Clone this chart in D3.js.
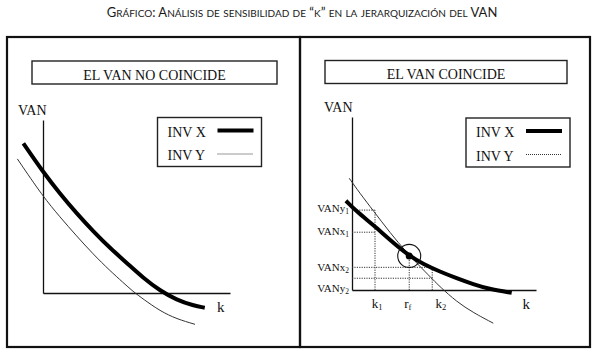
<!DOCTYPE html>
<html>
<head>
<meta charset="utf-8">
<script src="https://cdn.jsdelivr.net/npm/d3@7"></script>
<style>
  body { margin: 0; background: #fff; }
  svg { display: block; }
  .serif { font-family: "Liberation Serif", "Times New Roman", serif; fill: #111; }
</style>
</head>
<body>
<svg id="chart" width="599" height="354"></svg>
<script>
// ---- data (k and VAN in arbitrary units, 0..10 on each axis) ----
const chartTitle = "Gráfico: Análisis de sensibilidad de “k” en la jerarquización del VAN";
const panelTitles = ["EL VAN NO COINCIDE", "EL VAN COINCIDE"];
const seriesNames = ["INV X", "INV Y"];

// left panel: the two curves never cross inside the quadrant
const leftKX = [-1.05, 0, 0.9, 1.8, 2.7, 3.6, 4.5, 5.35, 6.25, 7.15, 8.05, 8.65];
const leftVanX = [8.65, 7.0, 5.75, 4.6, 3.55, 2.58, 1.72, 0.88, 0.14, -0.4, -0.73, -0.85];
const leftKY = [-1.37, 0, 0.91, 1.8, 2.68, 3.57, 4.28, 4.81, 5.36, 6.26, 7.15, 8.13];
const leftVanY = [7.75, 5.57, 4.39, 3.29, 2.25, 1.3, 0.61, 0.09, -0.35, -1.04, -1.5, -1.81];

// right panel: curves cross at r_f (Fisher rate)
const rightKX = [-0.33, 0.26, 1.16, 2.07, 3.11, 3.88, 4.78, 5.69, 6.59, 7.5, 8.68];
const rightVanX = [5.16, 4.53, 3.76, 2.89, 1.97, 1.5, 1.06, 0.68, 0.33, 0.04, -0.16];
const rightKY = [-0.15, 0.43, 1.16, 2.07, 2.97, 3.88, 4.42, 4.78, 5.69, 6.59, 7.68];
const rightVanY = [6.46, 5.59, 4.58, 3.31, 2.16, 1.16, 0.58, 0.19, -0.68, -1.31, -1.92];

const fisherK = 3.11;
const fisherVan = 1.97;

// dotted guides on the right panel
const guideVanLevels = [4.62, 3.34, 1.31, 0.68];
const guideVanEndK = [1.25, 1.25, 4.36, 4.36];
const guideVanLabels = [["VANy", "1"], ["VANx", "1"], ["VANx", "2"], ["VANy", "2"]];
const guideVanLabelPos = [4.51, 3.18, 1.1, -0.12];
const guideK = [1.25, 3.11, 4.36];
const guideKTopVan = [4.62, 1.97, 1.31];
const guideKLabels = [["k", "1"], ["r", "f"], ["k", "2"]];
const guideKLabelShift = [0.1, 0.0, 0.45];

// ---- drawing ----
const svg = d3.select("#chart");

// title in small caps: capitals full size, lower case letters as smaller capitals
let title = svg.append("text")
    .attr("x", 302)
    .attr("y", 16.5)
    .attr("text-anchor", "middle")
    .style("font-family", "Lato, 'Open Sans', sans-serif")
    .style("font-size", "13px")
    .style("fill", "#1a1a1a");
let runs = chartTitle.match(/[a-záéíóúñ]+|[^a-záéíóúñ]+/g);
runs.forEach(r => {
    let small = /[a-záéíóúñ]/.test(r[0]);
    title.append("tspan")
        .style("font-size", small ? "10px" : "13px")
        .text(small ? r.toUpperCase() : r);
});

const panels = [
    {
        frame: [7, 37, 293, 310],
        header: [32, 61, 245, 23],
        xRange: [43, 230], yRange: [293, 120],
        vanLabel: [18, 114.5], kLabel: [217, 312],
        legend: [157.5, 117.5, 104, 49],
        kX: leftKX, vanX: leftVanX, kY: leftKY, vanY: leftVanY
    },
    {
        frame: [300, 37, 290, 310],
        header: [325, 60.5, 242, 23],
        xRange: [352, 536], yRange: [290, 117],
        vanLabel: [324, 112], kLabel: [522.5, 309],
        legend: [466, 118, 104, 49],
        kX: rightKX, vanX: rightVanX, kY: rightKY, vanY: rightVanY
    }
];

panels.forEach((p, i) => {
    let g = svg.append("g");

    g.append("rect")
        .attr("x", p.frame[0]).attr("y", p.frame[1])
        .attr("width", p.frame[2]).attr("height", p.frame[3])
        .attr("fill", "none").attr("stroke", "#111").attr("stroke-width", 2.2);

    g.append("rect")
        .attr("x", p.header[0]).attr("y", p.header[1])
        .attr("width", p.header[2]).attr("height", p.header[3])
        .attr("fill", "none").attr("stroke", "#222").attr("stroke-width", 1.4);

    g.append("text")
        .attr("class", "serif")
        .attr("x", p.header[0] + p.header[2] / 2)
        .attr("y", p.header[1] + 18.5)
        .attr("text-anchor", "middle")
        .style("font-size", "14px")
        .text(panelTitles[i]);

    let x = d3.scaleLinear().domain([0, 10]).range(p.xRange);
    let y = d3.scaleLinear().domain([0, 10]).range(p.yRange);

    // axes: bare domain lines, no ticks
    g.append("g")
        .attr("transform", `translate(0,${y(0)})`)
        .call(d3.axisBottom(x).tickValues([]).tickSizeOuter(0))
        .select(".domain").attr("stroke", "#111").attr("stroke-width", 1.3);
    g.append("g")
        .attr("transform", `translate(${x(0)},0)`)
        .call(d3.axisLeft(y).tickValues([]).tickSizeOuter(0))
        .select(".domain").attr("stroke", "#111").attr("stroke-width", 1.3);

    g.append("text").attr("class", "serif")
        .attr("x", p.vanLabel[0]).attr("y", p.vanLabel[1])
        .style("font-size", "14px").text("VAN");
    g.append("text").attr("class", "serif")
        .attr("x", p.kLabel[0]).attr("y", p.kLabel[1])
        .style("font-size", "15px").text("k");

    let line = d3.line()
        .x(d => x(d[0]))
        .y(d => y(d[1]))
        .curve(d3.curveBasis);

    // guides go under the curves
    if (i === 1) {
        let guides = g.append("g")
            .attr("stroke", "#333").attr("stroke-width", 1)
            .attr("stroke-dasharray", "1.2,1.2");
        guides.selectAll(".hguide")
            .data(guideVanLevels)
            .join("line")
            .attr("class", "hguide")
            .attr("x1", x(0)).attr("x2", (d, j) => x(guideVanEndK[j]))
            .attr("y1", d => y(d)).attr("y2", d => y(d));
        guides.selectAll(".vguide")
            .data(guideK)
            .join("line")
            .attr("class", "vguide")
            .attr("x1", d => x(d)).attr("x2", d => x(d))
            .attr("y1", y(0)).attr("y2", (d, j) => y(guideKTopVan[j]));

        g.selectAll(".vanlab")
            .data(guideVanLabels)
            .join("text")
            .attr("class", "serif vanlab")
            .attr("x", x(0) - 3)
            .attr("y", (d, j) => y(guideVanLabelPos[j]))
            .attr("text-anchor", "end")
            .style("font-size", "11px")
            .each(function(d) {
                let t = d3.select(this);
                t.append("tspan").text(d[0]);
                t.append("tspan").attr("dy", 2).style("font-size", "7.5px").text(d[1]);
            });

        g.selectAll(".klab")
            .data(guideKLabels)
            .join("text")
            .attr("class", "serif klab")
            .attr("x", (d, j) => x(guideK[j] + guideKLabelShift[j]) - 5)
            .attr("y", 307.5)
            .style("font-size", "13px")
            .each(function(d) {
                let t = d3.select(this);
                t.append("tspan").text(d[0]);
                t.append("tspan").attr("dy", 2).style("font-size", "8.5px").text(d[1]);
            });
    }

    g.append("path")
        .datum(d3.zip(p.kY, p.vanY))
        .attr("d", line)
        .attr("fill", "none")
        .attr("stroke", "#333")
        .attr("stroke-width", 1);

    g.append("path")
        .datum(d3.zip(p.kX, p.vanX))
        .attr("d", line)
        .attr("fill", "none")
        .attr("stroke", "#000")
        .attr("stroke-width", 4);

    if (i === 1) {
        g.append("circle")
            .attr("cx", x(fisherK)).attr("cy", y(fisherVan)).attr("r", 11.5)
            .attr("fill", "none").attr("stroke", "#111").attr("stroke-width", 1.1);
        g.append("circle")
            .attr("cx", x(fisherK)).attr("cy", y(fisherVan)).attr("r", 3.5)
            .attr("fill", "#000");
    }

    // legend
    let lg = g.append("g").attr("transform", `translate(${p.legend[0]},${p.legend[1]})`);
    lg.append("rect")
        .attr("width", p.legend[2]).attr("height", p.legend[3])
        .attr("fill", "#fff").attr("stroke", "#222").attr("stroke-width", 1.4);
    let rows = lg.selectAll(".row")
        .data(seriesNames)
        .join("g")
        .attr("class", "row")
        .attr("transform", (d, j) => `translate(0,${13 + j * 23.5})`);
    rows.append("text")
        .attr("class", "serif")
        .attr("x", 10).attr("y", 6)
        .style("font-size", "14px")
        .text(d => d);
    rows.append("line")
        .attr("x1", 60).attr("x2", 96)
        .attr("y1", 0).attr("y2", 0)
        .attr("stroke", (d, j) => j === 0 ? "#000" : "#333")
        .attr("stroke-width", (d, j) => j === 0 ? 4 : 1)
        .attr("stroke-dasharray", (d, j) => j === 0 ? null : "1,1");
});
</script>
</body>
</html>
